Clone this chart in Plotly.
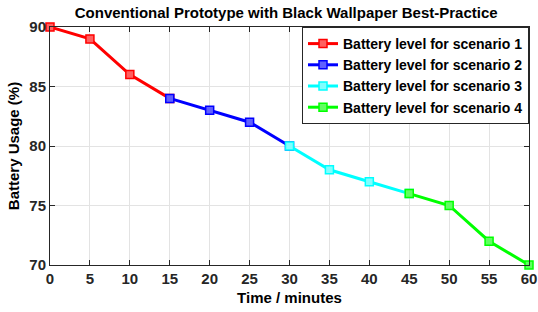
import plotly.graph_objects as go

time_s1 = [0, 5, 10, 15]
level_s1 = [90, 89, 86, 84]
time_s2 = [15, 20, 25, 30]
level_s2 = [84, 83, 82, 80]
time_s3 = [30, 35, 40, 45]
level_s3 = [80, 78, 77, 76]
time_s4 = [45, 50, 55, 60]
level_s4 = [76, 75, 72, 70]

names = ["Battery level for scenario 1", "Battery level for scenario 2",
         "Battery level for scenario 3", "Battery level for scenario 4"]
colors = ["#ff0000", "#0000ff", "#00ffff", "#00ff00"]
fills = ["#ff6060", "#6060ff", "#80ffff", "#60ff60"]
xs = [time_s1, time_s2, time_s3, time_s4]
ys = [level_s1, level_s2, level_s3, level_s4]

FONT = "Liberation Sans, Arial, sans-serif"

fig = go.Figure()
for x, y, n, c, f in zip(xs, ys, names, colors, fills):
    fig.add_trace(go.Scatter(
        x=x, y=y, name=n, mode="lines+markers",
        line=dict(color=c, width=3),
        marker=dict(symbol="square", size=8, color=f, line=dict(color=c, width=1.5)),
        cliponaxis=False,
    ))

axis_common = dict(
    showline=True, linecolor="#262626", linewidth=1, mirror="ticks",
    ticks="inside", ticklen=5, tickcolor="#262626",
    showgrid=True, gridcolor="#e3e3e3", gridwidth=1, zeroline=False,
    tickfont=dict(family=FONT, size=15, color="#262626", weight="bold"),
    automargin=False,
)

fig.update_xaxes(range=[0, 60], tickvals=list(range(0, 61, 5)),
                 title=dict(text="Time / minutes", font=dict(family=FONT, size=15, color="black", weight="bold"), standoff=6),
                 **axis_common)
fig.update_yaxes(range=[70, 90], tickvals=[70, 75, 80, 85, 90],
                 title=dict(text="Battery Usage (%)", font=dict(family=FONT, size=15, color="black", weight="bold"), standoff=6),
                 **axis_common)

fig.update_layout(
    width=538, height=312,
    margin=dict(l=50, r=9, t=27, b=47),
    paper_bgcolor="white", plot_bgcolor="white",
    title=dict(text="Conventional Prototype with Black Wallpaper Best-Practice",
               x=0.532, xanchor="center", y=0.958, yanchor="middle",
               font=dict(family=FONT, size=15, color="black", weight="bold")),
    legend=dict(x=1, y=1, xanchor="right", yanchor="top",
                bgcolor="white", bordercolor="#262626", borderwidth=1,
                font=dict(family=FONT, size=14, color="black", weight="bold"),
                itemwidth=30, tracegroupgap=0),
    showlegend=True,
)

fig.write_html("out.html", config={"displayModeBar": False},
               post_script="document.body.style.margin='0';document.body.style.overflow='hidden';")
